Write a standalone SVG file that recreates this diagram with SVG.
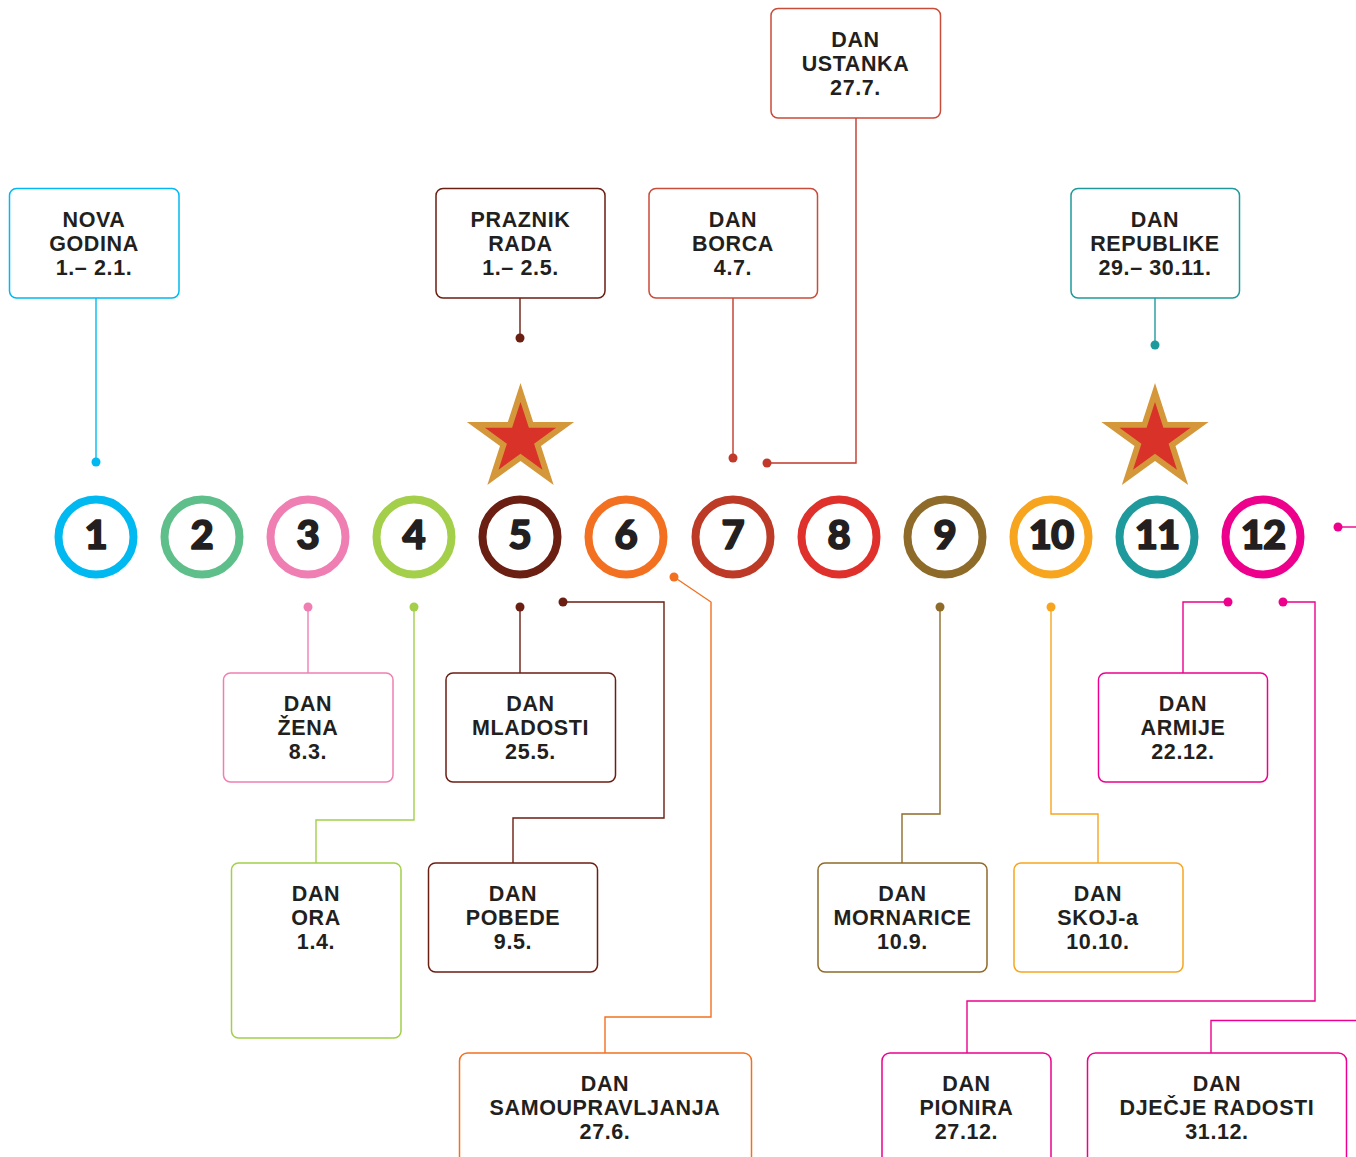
<svg xmlns="http://www.w3.org/2000/svg" width="1356" height="1157" viewBox="0 0 1356 1157">
<style>
.box{fill:#fff;stroke-width:1.5}
.lbl{font-family:"Liberation Sans",Arial,sans-serif;font-weight:bold;font-size:21.5px;letter-spacing:0.6px;fill:#231f20;text-anchor:middle}
.ring{fill:#fff;stroke-width:8}
.num{font-family:Lato,"DejaVu Sans",sans-serif;font-weight:900;font-size:40px;fill:#231f20;stroke:#231f20;stroke-width:1.6;stroke-linejoin:round;text-anchor:middle}
.ln{fill:none;stroke-width:1.4}
</style>
<defs>
<polygon id="star" points="0,-56.4 12.67,-17.43 53.64,-17.43 20.5,6.66 33.15,45.63 0,21.55 -33.15,45.63 -20.5,6.66 -53.64,-17.43 -12.67,-17.43"/>
</defs>
<rect width="1356" height="1157" fill="#fff"/>

<g id="stars">
<g transform="translate(520.5,439.4)"><use href="#star" fill="#d4973a"/><use href="#star" fill="#d93229" transform="scale(0.663)"/></g>
<g transform="translate(1155,439.4)"><use href="#star" fill="#d4973a"/><use href="#star" fill="#d93229" transform="scale(0.663)"/></g>
</g>

<g id="connectors">
<g stroke="#00b9f1" fill="#00b9f1"><path class="ln" d="M96,298V462"/><circle cx="96" cy="462" r="4.5" stroke="none"/></g>
<g stroke="#6b1e12" fill="#6b1e12"><path class="ln" d="M520,298V338"/><circle cx="520" cy="338" r="4.5" stroke="none"/></g>
<g stroke="#c0392b" fill="#c0392b"><path class="ln" d="M733,298V458"/><circle cx="733" cy="458" r="4.5" stroke="none"/></g>
<g stroke="#c0392b" fill="#c0392b"><path class="ln" d="M856,118V463H767"/><circle cx="767" cy="463" r="4.5" stroke="none"/></g>
<g stroke="#1f9a9c" fill="#1f9a9c"><path class="ln" d="M1155,298V345"/><circle cx="1155" cy="345" r="4.5" stroke="none"/></g>
<g stroke="#ef7fb2" fill="#ef7fb2"><path class="ln" d="M308,607V673"/><circle cx="308" cy="607" r="4.5" stroke="none"/></g>
<g stroke="#a3cf4a" fill="#a3cf4a"><path class="ln" d="M414,607V820H316V863"/><circle cx="414" cy="607" r="4.5" stroke="none"/></g>
<g stroke="#6b1e12" fill="#6b1e12"><path class="ln" d="M520,607V673"/><circle cx="520" cy="607" r="4.5" stroke="none"/></g>
<g stroke="#6b1e12" fill="#6b1e12"><path class="ln" d="M563,602H664V818H513V863"/><circle cx="563" cy="602" r="4.5" stroke="none"/></g>
<g stroke="#f37021" fill="#f37021"><path class="ln" d="M674,577L711,602V1017H605V1053"/><circle cx="674" cy="577" r="4.5" stroke="none"/></g>
<g stroke="#8f6b2a" fill="#8f6b2a"><path class="ln" d="M940,607V814H902V863"/><circle cx="940" cy="607" r="4.5" stroke="none"/></g>
<g stroke="#f7a51f" fill="#f7a51f"><path class="ln" d="M1051,607V814H1098V863"/><circle cx="1051" cy="607" r="4.5" stroke="none"/></g>
<g stroke="#ec008c" fill="#ec008c"><path class="ln" d="M1228,602H1183V673"/><circle cx="1228" cy="602" r="4.5" stroke="none"/></g>
<g stroke="#ec008c" fill="#ec008c"><path class="ln" d="M1283,602H1315V1001H967V1053"/><circle cx="1283" cy="602" r="4.5" stroke="none"/></g>
<g stroke="#ec008c" fill="#ec008c"><path class="ln" d="M1338,527H1356"/><circle cx="1338" cy="527" r="4.5" stroke="none"/></g>
<g stroke="#ec008c"><path class="ln" d="M1356,1020.5H1211V1053"/></g>
</g>

<g id="months">
<g id="m1"><circle class="ring" cx="96" cy="537" r="37.5" stroke="#00b9f1"/><text class="num" x="96" y="549">1</text></g>
<g id="m2"><circle class="ring" cx="202" cy="537" r="37.5" stroke="#5fbf8a"/><text class="num" x="202" y="549">2</text></g>
<g id="m3"><circle class="ring" cx="308" cy="537" r="37.5" stroke="#ef7fb2"/><text class="num" x="308" y="549">3</text></g>
<g id="m4"><circle class="ring" cx="414" cy="537" r="37.5" stroke="#a3cf4a"/><text class="num" x="414" y="549">4</text></g>
<g id="m5"><circle class="ring" cx="520" cy="537" r="37.5" stroke="#6b1e12"/><text class="num" x="520" y="549">5</text></g>
<g id="m6"><circle class="ring" cx="626" cy="537" r="37.5" stroke="#f37021"/><text class="num" x="626" y="549">6</text></g>
<g id="m7"><circle class="ring" cx="733" cy="537" r="37.5" stroke="#bc3a26"/><text class="num" x="733" y="549">7</text></g>
<g id="m8"><circle class="ring" cx="839" cy="537" r="37.5" stroke="#e0302b"/><text class="num" x="839" y="549">8</text></g>
<g id="m9"><circle class="ring" cx="945" cy="537" r="37.5" stroke="#8f6b2a"/><text class="num" x="945" y="549">9</text></g>
<g id="m10"><circle class="ring" cx="1051" cy="537" r="37.5" stroke="#f7a51f"/><text class="num" x="1051" y="549" letter-spacing="-1">10</text></g>
<g id="m11"><circle class="ring" cx="1157" cy="537" r="37.5" stroke="#1f9a9c"/><text class="num" x="1157" y="549" letter-spacing="-1">11</text></g>
<g id="m12"><circle class="ring" cx="1263" cy="537" r="37.5" stroke="#ec008c"/><text class="num" x="1263" y="549" letter-spacing="-1">12</text></g>
</g>

<g id="nova-godina"><rect class="box" x="9.5" y="188.5" width="169.5" height="109.5" rx="7" stroke="#00b9f1"/><text class="lbl"><tspan x="94" y="227">NOVA</tspan><tspan x="94" y="251">GODINA</tspan><tspan x="94" y="275">1.– 2.1.</tspan></text></g>
<g id="praznik-rada"><rect class="box" x="436" y="188.5" width="169" height="109.5" rx="7" stroke="#6b1e12"/><text class="lbl"><tspan x="520.5" y="227">PRAZNIK</tspan><tspan x="520.5" y="251">RADA</tspan><tspan x="520.5" y="275">1.– 2.5.</tspan></text></g>
<g id="dan-borca"><rect class="box" x="649" y="188.5" width="168.5" height="109.5" rx="7" stroke="#c94b3a"/><text class="lbl"><tspan x="733" y="227">DAN</tspan><tspan x="733" y="251">BORCA</tspan><tspan x="733" y="275">4.7.</tspan></text></g>
<g id="dan-ustanka"><rect class="box" x="771" y="8.5" width="169.5" height="109.5" rx="7" stroke="#c94b3a"/><text class="lbl"><tspan x="855.5" y="47">DAN</tspan><tspan x="855.5" y="71">USTANKA</tspan><tspan x="855.5" y="95">27.7.</tspan></text></g>
<g id="dan-republike"><rect class="box" x="1071" y="188.5" width="168.5" height="109.5" rx="7" stroke="#1f9a9c"/><text class="lbl"><tspan x="1155" y="227">DAN</tspan><tspan x="1155" y="251">REPUBLIKE</tspan><tspan x="1155" y="275">29.– 30.11.</tspan></text></g>
<g id="dan-zena"><rect class="box" x="223.5" y="673" width="169.5" height="109" rx="7" stroke="#ef7fb2"/><text class="lbl"><tspan x="308" y="711">DAN</tspan><tspan x="308" y="735">ŽENA</tspan><tspan x="308" y="759">8.3.</tspan></text></g>
<g id="dan-mladosti"><rect class="box" x="446" y="673" width="169.5" height="109" rx="7" stroke="#6b1e12"/><text class="lbl"><tspan x="530.5" y="711">DAN</tspan><tspan x="530.5" y="735">MLADOSTI</tspan><tspan x="530.5" y="759">25.5.</tspan></text></g>
<g id="dan-armije"><rect class="box" x="1098.5" y="673" width="169" height="109" rx="7" stroke="#ec008c"/><text class="lbl"><tspan x="1183" y="711">DAN</tspan><tspan x="1183" y="735">ARMIJE</tspan><tspan x="1183" y="759">22.12.</tspan></text></g>
<g id="dan-ora"><rect class="box" x="231.5" y="863" width="169.5" height="175" rx="7" stroke="#a3cf4a"/><text class="lbl"><tspan x="316" y="901">DAN</tspan><tspan x="316" y="925">ORA</tspan><tspan x="316" y="949">1.4.</tspan></text></g>
<g id="dan-pobede"><rect class="box" x="428.5" y="863" width="169" height="109" rx="7" stroke="#6b1e12"/><text class="lbl"><tspan x="513" y="901">DAN</tspan><tspan x="513" y="925">POBEDE</tspan><tspan x="513" y="949">9.5.</tspan></text></g>
<g id="dan-mornarice"><rect class="box" x="818" y="863" width="169" height="109" rx="7" stroke="#8f6b2a"/><text class="lbl"><tspan x="902.5" y="901">DAN</tspan><tspan x="902.5" y="925">MORNARICE</tspan><tspan x="902.5" y="949">10.9.</tspan></text></g>
<g id="dan-skoja"><rect class="box" x="1014" y="863" width="169" height="109" rx="7" stroke="#f7a51f"/><text class="lbl"><tspan x="1098" y="901">DAN</tspan><tspan x="1098" y="925">SKOJ-a</tspan><tspan x="1098" y="949">10.10.</tspan></text></g>
<g id="dan-samoupravljanja"><rect class="box" x="459.5" y="1053" width="292" height="120" rx="8" stroke="#f37021"/><text class="lbl"><tspan x="605" y="1091">DAN</tspan><tspan x="605" y="1115">SAMOUPRAVLJANJA</tspan><tspan x="605" y="1139">27.6.</tspan></text></g>
<g id="dan-pionira"><rect class="box" x="882" y="1053" width="169" height="120" rx="8" stroke="#ec008c"/><text class="lbl"><tspan x="966.5" y="1091">DAN</tspan><tspan x="966.5" y="1115">PIONIRA</tspan><tspan x="966.5" y="1139">27.12.</tspan></text></g>
<g id="dan-djecje-radosti"><rect class="box" x="1087.5" y="1053" width="259" height="120" rx="8" stroke="#ec008c"/><text class="lbl"><tspan x="1217" y="1091">DAN</tspan><tspan x="1217" y="1115">DJEČJE RADOSTI</tspan><tspan x="1217" y="1139">31.12.</tspan></text></g>
</svg>
